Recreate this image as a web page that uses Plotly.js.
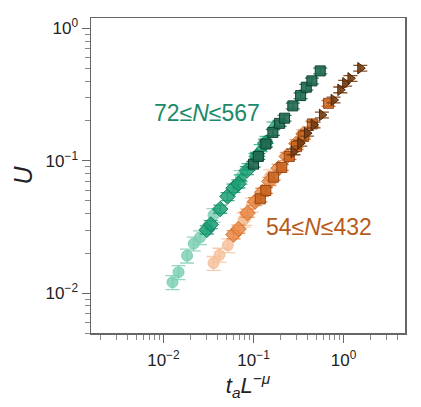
<!DOCTYPE html>
<html>
<head>
<meta charset="utf-8">
<script src="https://cdn.plot.ly/plotly-3.0.1.min.js"></script>
<style>
  html, body { margin: 0; padding: 0; background: #fff; }
  #chart { width: 421px; height: 407px; }
</style>
</head>
<body>
<div id="chart"></div>
<script>
// green family: 72 <= N <= 567
const gCircX = [0.0126, 0.0147, 0.0183, 0.0217, 0.0255, 0.036, 0.0723];
const gCircY = [0.0121, 0.0144, 0.0192, 0.0237, 0.0264, 0.0389, 0.0753];
const gDiamX = [0.0303, 0.0335, 0.0427, 0.0514, 0.060, 0.068, 0.0843, 0.109, 0.135];
const gDiamY = [0.0301, 0.0330, 0.0432, 0.0538, 0.0622, 0.067, 0.0845, 0.108, 0.136];
const gTriX = [0.072, 0.088, 0.105, 0.120, 0.140, 0.167];
const gTriY = [0.074, 0.090, 0.107, 0.125, 0.144, 0.185];
const gSqX = [0.100, 0.113, 0.137, 0.164, 0.195, 0.221, 0.273, 0.333, 0.385, 0.444, 0.55];
const gSqY = [0.0944, 0.108, 0.134, 0.164, 0.192, 0.210, 0.260, 0.311, 0.360, 0.402, 0.478];

// orange family: 54 <= N <= 432
const oCircX = [0.036, 0.0419, 0.0518, 0.0774, 0.0808, 0.0958, 0.153];
const oCircY = [0.0169, 0.0195, 0.0230, 0.0359, 0.0369, 0.0466, 0.0762];
const oDiamX = [0.060, 0.068, 0.0857, 0.104, 0.125, 0.150, 0.190, 0.234, 0.300, 0.360];
const oDiamY = [0.0277, 0.0305, 0.0403, 0.0493, 0.058, 0.070, 0.088, 0.108, 0.135, 0.160];
const oSqX = [0.119, 0.137, 0.167, 0.206, 0.250, 0.300, 0.360, 0.450, 0.68];
const oSqY = [0.0516, 0.0597, 0.0753, 0.0891, 0.108, 0.128, 0.153, 0.190, 0.272];
const oTriX = [0.278, 0.330, 0.392, 0.464, 0.574, 0.774, 0.918, 1.04, 1.19, 1.53];
const oTriY = [0.117, 0.136, 0.162, 0.187, 0.222, 0.288, 0.344, 0.386, 0.420, 0.501];

const xTickVals = [0.01, 0.1, 1];
const yTickVals = [0.01, 0.1, 1];
const xTickText = ["10<sup>\u22122</sup>", "10<sup>\u22121</sup>", "10<sup>0</sup>"];
const yTickText = ["10<sup>\u22122</sup>", "10<sup>\u22121</sup>", "10<sup>0</sup>"];

function series(x, y, symbol, fill, edge, size, errPct) {
  return {
    type: "scatter",
    mode: "markers",
    x: x,
    y: y,
    marker: { symbol: symbol, size: size, color: fill, line: { color: edge, width: 1 } },
    error_y: { type: "percent", value: errPct, color: fill, thickness: 1.3, width: 7 },
    showlegend: false,
    hoverinfo: "x+y",
  };
}

const traces = [
  series(gCircX, gCircY, "circle", "rgba(120,205,178,0.8)", "rgba(120,205,178,0.9)", 11, 12),
  series(oCircX, oCircY, "circle", "rgba(245,190,150,0.8)", "rgba(245,190,150,0.9)", 11, 12),
  series(gTriX, gTriY, "triangle-up", "rgba(40,175,130,0.85)", "rgba(25,140,100,0.9)", 10, 6),
  series(gDiamX, gDiamY, "diamond", "rgba(26,158,116,0.85)", "rgba(15,120,85,0.9)", 12, 7),
  series(oDiamX, oDiamY, "diamond", "rgba(232,136,70,0.85)", "rgba(205,105,40,0.9)", 12, 7),
  series(gSqX, gSqY, "square", "rgba(32,105,80,0.9)", "rgba(15,65,48,1)", 10, 5),
  series(oSqX, oSqY, "square", "rgba(200,100,30,0.85)", "rgba(150,70,20,1)", 10, 5),
  series(oTriX, oTriY, "triangle-right", "rgba(120,62,20,0.9)", "rgba(80,40,10,1)", 10, 5),
];

const axisCommon = {
  type: "log",
  showline: true,
  mirror: true,
  linecolor: "#666",
  linewidth: 1.5,
  showgrid: false,
  zeroline: false,
  ticks: "outside",
  ticklen: 8,
  tickwidth: 1.2,
  tickcolor: "#666",
  tickmode: "array",
  tickfont: { family: "Liberation Sans, Arial, sans-serif", size: 17, color: "#222" },
  minor: { ticks: "outside", ticklen: 5, tickwidth: 1, tickcolor: "#888", dtick: "D1" },
};

const layout = {
  width: 421,
  height: 407,
  margin: { l: 91, r: 16, t: 18, b: 74 },
  paper_bgcolor: "#fff",
  plot_bgcolor: "#fff",
  font: { family: "Liberation Sans, Arial, sans-serif", color: "#222" },
  xaxis: Object.assign({}, axisCommon, {
    range: [Math.log10(0.00157), Math.log10(4.8)],
    tickvals: xTickVals,
    ticktext: xTickText,
    ticklabelstandoff: 3,
    title: { text: "<i>t<sub>a</sub>L<sup>\u2212\u03bc</sup></i>", font: { size: 22 }, standoff: 4 },
  }),
  yaxis: Object.assign({}, axisCommon, {
    range: [Math.log10(0.005), Math.log10(1.2)],
    tickvals: yTickVals,
    ticktext: yTickText,
    title: { text: "<i>U</i>", font: { size: 25 }, standoff: 6 },
  }),
  annotations: [
    {
      x: Math.log10(0.0304), y: Math.log10(0.23), xref: "x", yref: "y",
      text: "72\u2264<i>N</i>\u2264567", showarrow: false,
      font: { size: 23, color: "#1a8a68" },
    },
    {
      x: Math.log10(0.535), y: Math.log10(0.0318), xref: "x", yref: "y",
      text: "54\u2264<i>N</i>\u2264432", showarrow: false,
      font: { size: 23, color: "#b85a18" },
    },
  ],
};

Plotly.newPlot("chart", traces, layout, { displayModeBar: false, staticPlot: true });
</script>
</body>
</html>
